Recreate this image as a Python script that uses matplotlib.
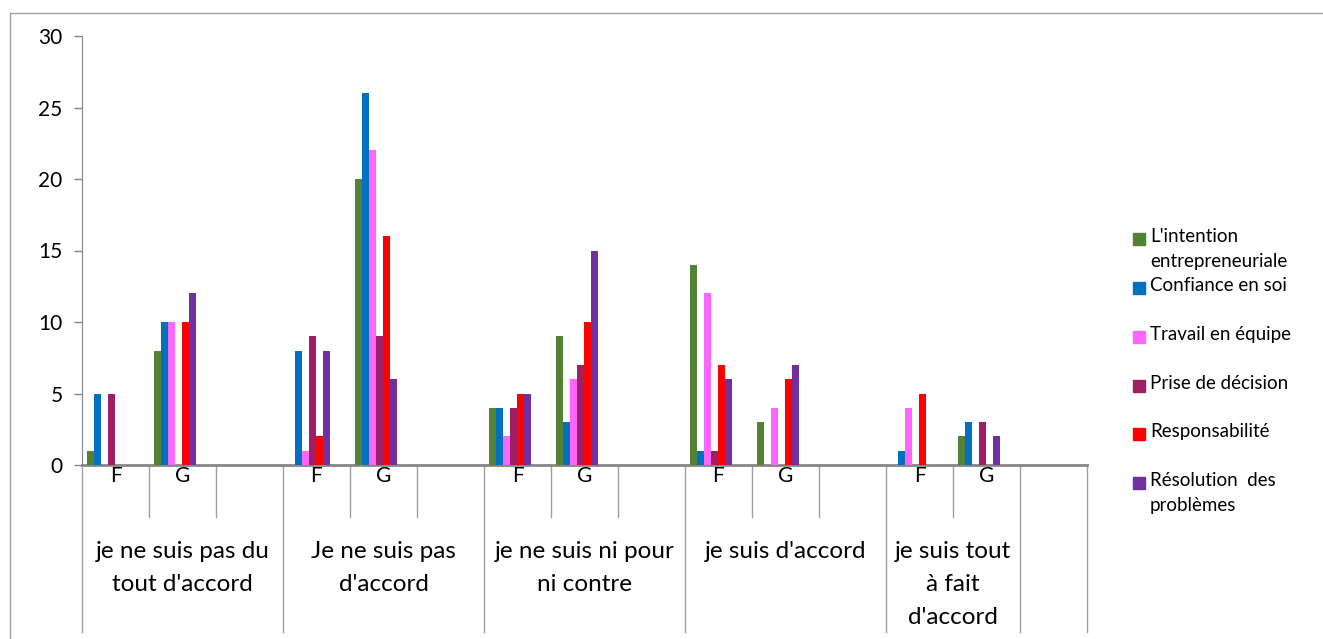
import matplotlib
matplotlib.use("Agg")
import matplotlib.pyplot as plt
from matplotlib.lines import Line2D
from matplotlib.patches import Rectangle
import numpy as np

plt.rcParams["font.family"] = ["Lato", "DejaVu Sans"]

# -----------------------------
# Data
# -----------------------------
sub_labels = ["F", "G", "", "F", "G", "", "F", "G", "", "F", "G", "", "F", "G", ""]
group_labels = [
    "je ne suis pas du\ntout d'accord",
    "Je ne suis pas\nd'accord",
    "je ne suis ni pour\nni contre",
    "je suis d'accord",
    "je suis tout\nà fait\nd'accord",
    "",
]
group_sizes = [3, 3, 3, 3, 2, 1]

series_names = [
    "L'intention\nentrepreneuriale",
    "Confiance en soi",
    "Travail en équipe",
    "Prise de décision",
    "Responsabilité",
    "Résolution  des\nproblèmes",
]
intention = [1, 8, 0, 0, 20, 0, 4, 9, 0, 14, 3, 0, 0, 2, 0]
confiance = [5, 10, 0, 8, 26, 0, 4, 3, 0, 1, 0, 0, 1, 3, 0]
travail = [0, 10, 0, 1, 22, 0, 2, 6, 0, 12, 4, 0, 4, 0, 0]
decision = [5, 0, 0, 9, 9, 0, 4, 7, 0, 1, 0, 0, 0, 3, 0]
responsabilite = [0, 10, 0, 2, 16, 0, 5, 10, 0, 7, 6, 0, 5, 0, 0]
resolution = [0, 12, 0, 8, 6, 0, 5, 15, 0, 6, 7, 0, 0, 2, 0]

series = [intention, confiance, travail, decision, responsabilite, resolution]
colors = ["#548235", "#0070C0", "#FF66FF", "#9E1F63", "#FF0000", "#7030A0"]

# -----------------------------
# Figure
# -----------------------------
W, H = 1323, 639
fig = plt.figure(figsize=(W / 100, H / 100), dpi=100)
ax = fig.add_axes([82 / W, 1 - 465 / H, (1087 - 82) / W, (465 - 36) / H])

n = len(sub_labels)
x = np.arange(n)
bar_w = 0.1045
for k, (vals, col) in enumerate(zip(series, colors)):
    ax.bar(x + 0.131 + k * bar_w, vals, width=bar_w, color=col,
           edgecolor="none", zorder=3)

ax.set_xlim(0, n)
ax.set_ylim(0, 30)
ax.set_yticks(range(0, 31, 5))
ax.set_xticks([])
ax.tick_params(axis="y", direction="out", length=6, width=1,
               color="#868686", labelsize=15, pad=8)
for s in ["top", "right"]:
    ax.spines[s].set_visible(False)
ax.spines["left"].set_color("#868686")
ax.spines["bottom"].set_color("#868686")
ax.spines["bottom"].set_linewidth(2)

# -----------------------------
# Multi-level category axis
# -----------------------------
trans = ax.get_xaxis_transform()
px = 1 / (465 - 36)  # one pixel in axes units
short_y = -(517 - 465) * px
long_y = -(632 - 465) * px

bounds = np.cumsum([0] + group_sizes)
for b in range(n + 1):
    y_end = long_y if b in bounds else short_y
    ax.add_line(Line2D([b, b], [0, y_end], transform=trans, color="#A0A0A0",
                       lw=1, clip_on=False))

for i, lab in enumerate(sub_labels):
    if lab:
        ax.text(i + 0.5, -(476 - 465) * px, lab, transform=trans,
                ha="center", va="center", fontsize=15)

for g, lab in enumerate(group_labels):
    if lab:
        cx = (bounds[g] + bounds[g + 1]) / 2
        ax.text(cx, -(541 - 465) * px, lab, transform=trans, ha="center",
                va="top", fontsize=17.5, linespacing=1.72)

# -----------------------------
# Legend
# -----------------------------
legend_y = [239, 288, 337, 386, 434, 483]
for name, col, ly in zip(series_names, colors, legend_y):
    fig.patches.append(Rectangle((1133 / W, 1 - (ly + 6) / H), 12 / W, 12 / H,
                                 transform=fig.transFigure, color=col))
    fig.text(1150 / W, 1 - (ly - 11) / H, name, ha="left", va="top",
             fontsize=13.5, linespacing=1.6)

# -----------------------------
# Chart border
# -----------------------------
fig.add_artist(Line2D([10 / W, 10 / W], [0, 1 - 13 / H], color="#A0A0A0", lw=1))
fig.add_artist(Line2D([10 / W, 1], [1 - 13 / H, 1 - 13 / H], color="#A0A0A0", lw=1))

fig.savefig("out.png", dpi=100)
plt.close(fig)
